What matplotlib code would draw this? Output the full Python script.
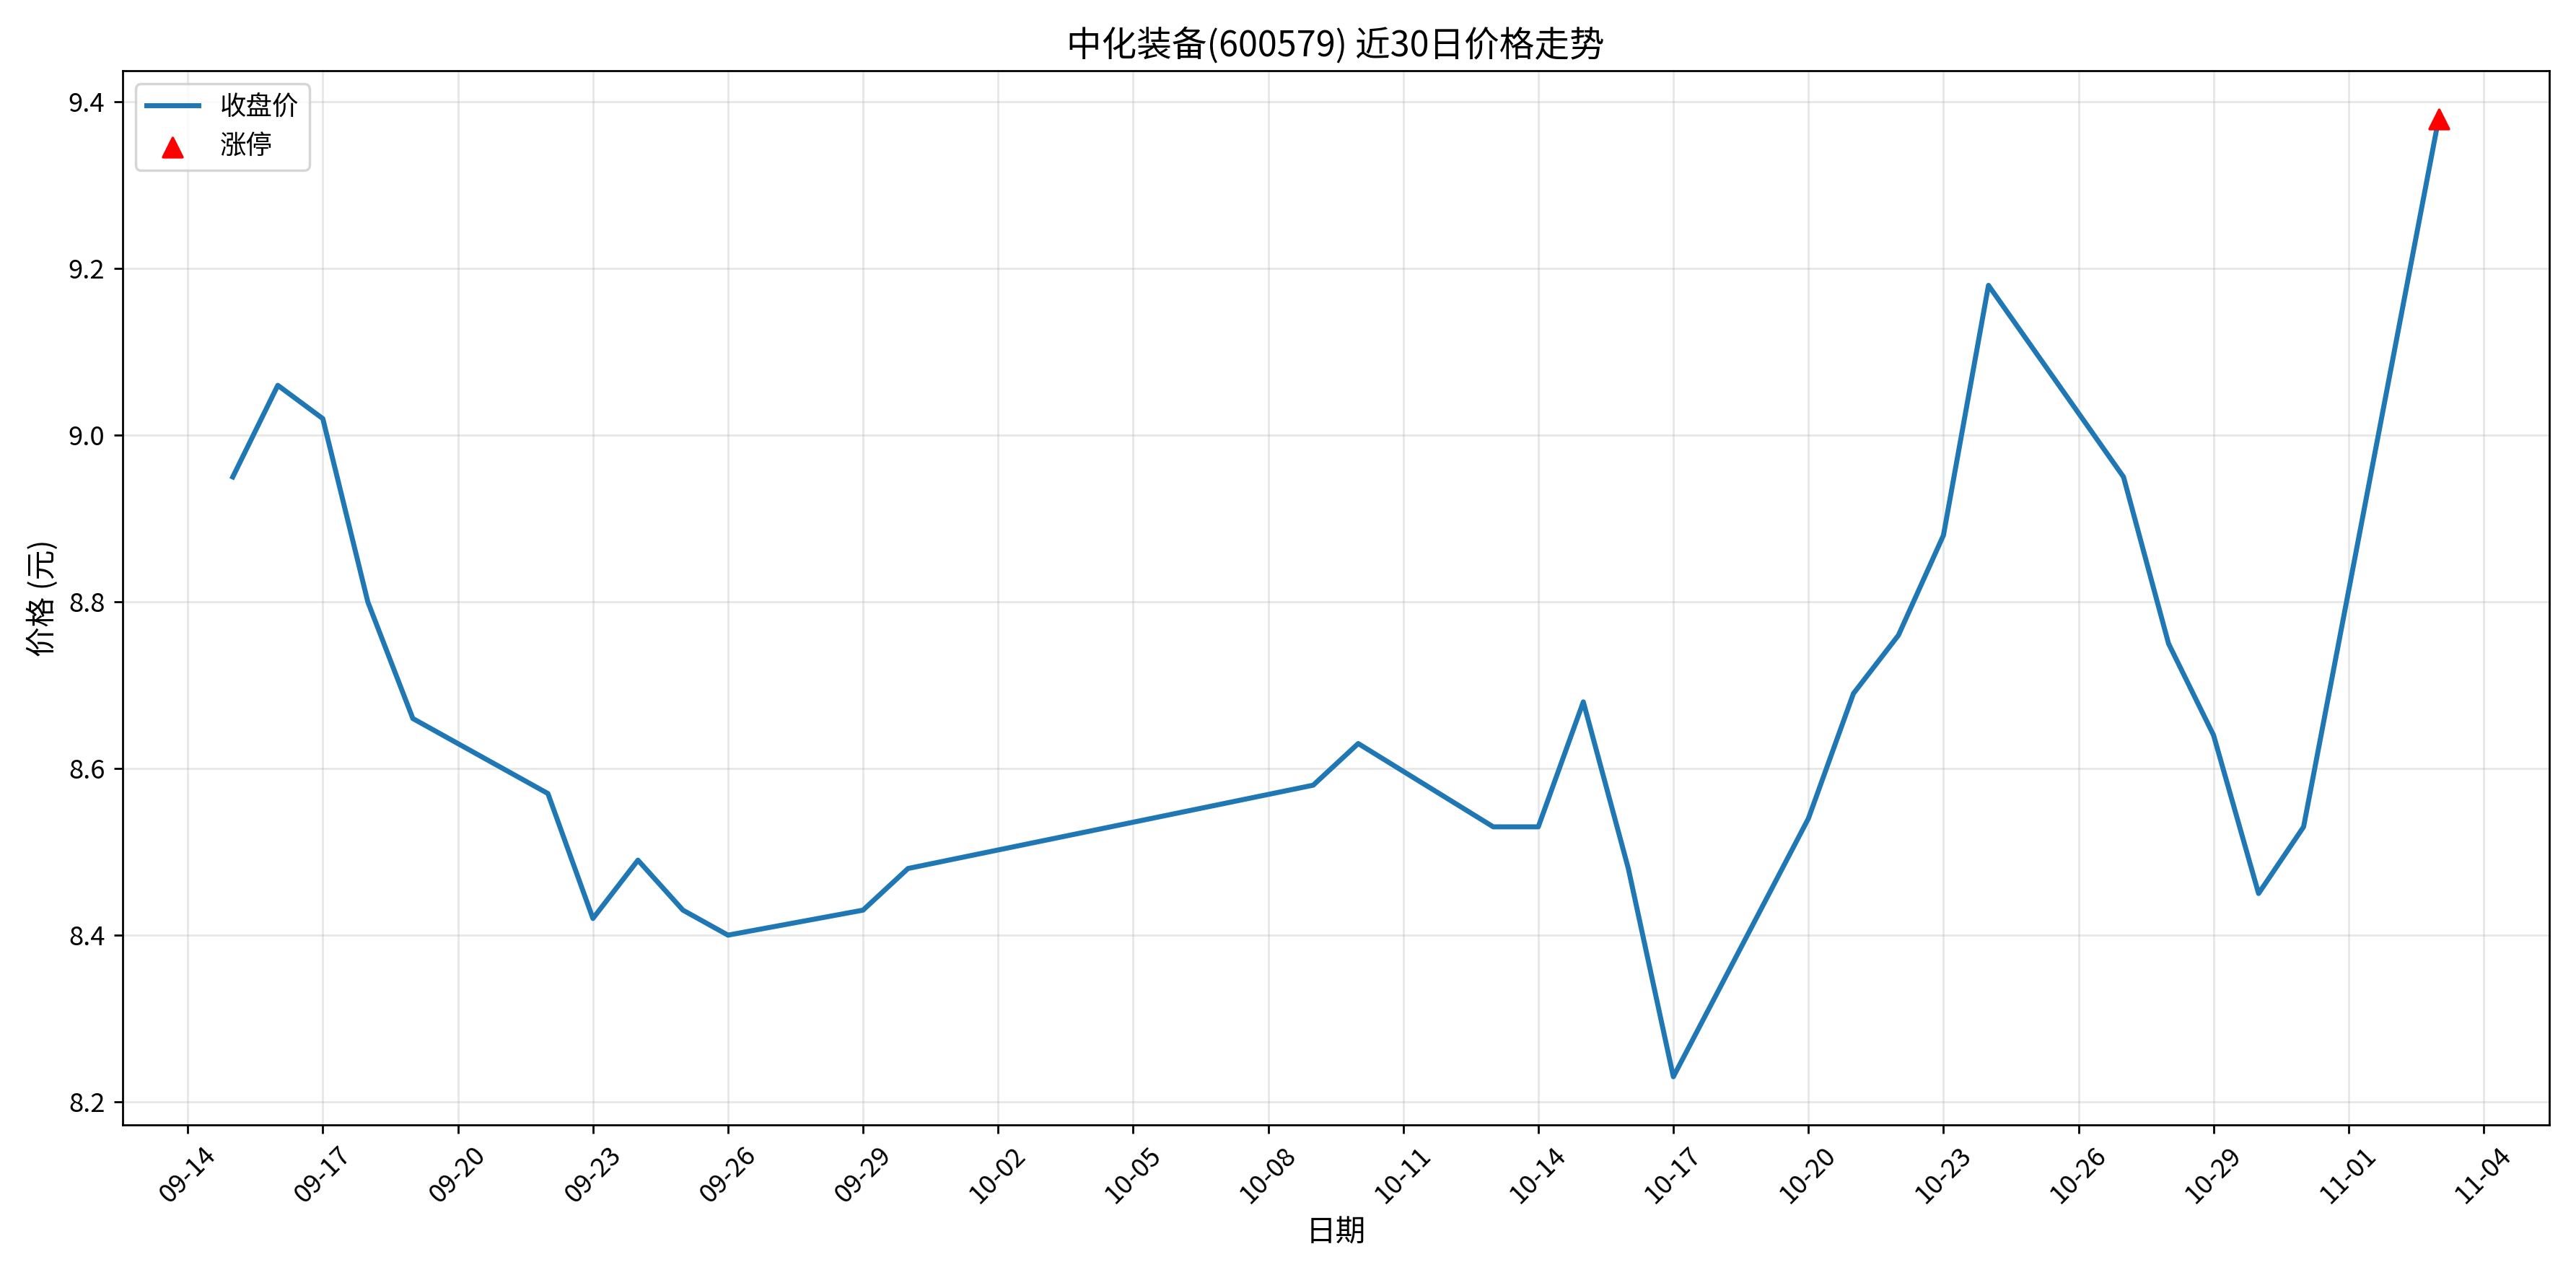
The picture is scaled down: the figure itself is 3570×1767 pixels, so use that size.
import matplotlib
matplotlib.use("Agg")
import matplotlib.pyplot as plt
import matplotlib.dates as mdates
import pandas as pd

plt.rcParams['font.family'] = ['Noto Sans CJK SC', 'DejaVu Sans']
plt.rcParams['axes.unicode_minus'] = False

dates = ["2025-09-15","2025-09-16","2025-09-17","2025-09-18","2025-09-19","2025-09-22",
         "2025-09-23","2025-09-24","2025-09-25","2025-09-26","2025-09-29","2025-09-30",
         "2025-10-09","2025-10-10","2025-10-13","2025-10-14","2025-10-15","2025-10-16",
         "2025-10-17","2025-10-20","2025-10-21","2025-10-22","2025-10-23","2025-10-24",
         "2025-10-27","2025-10-28","2025-10-29","2025-10-30","2025-10-31","2025-11-03"]
close = [8.95,9.06,9.02,8.80,8.66,8.57,8.42,8.49,8.43,8.40,8.43,8.48,
         8.58,8.63,8.53,8.53,8.68,8.48,8.23,8.54,8.69,8.76,8.88,9.18,
         8.95,8.75,8.64,8.45,8.53,9.38]
limit_dates = ["2025-11-03"]
limit_prices = [9.38]

d = pd.to_datetime(dates)
fig, ax = plt.subplots(figsize=(14.28, 7.068), dpi=250)
ax.plot(d, close, color='#1f77b4', linewidth=2, label='收盘价')
ax.scatter(pd.to_datetime(limit_dates), limit_prices, marker='^', color='red', s=60, zorder=5, label='涨停')
ax.set_title('中化装备(600579) 近30日价格走势', fontsize=14)
ax.set_xlabel('日期', fontsize=12)
ax.set_ylabel('价格 (元)', fontsize=12)
ticks = pd.date_range("2025-09-14", "2025-11-04", freq="3D")
ax.set_xticks(ticks)
ax.xaxis.set_major_formatter(mdates.DateFormatter('%m-%d'))
ax.tick_params(labelsize=10.5)
plt.setp(ax.get_xticklabels(), rotation=45)
ax.grid(True, alpha=0.3)
ax.legend(loc='upper left', fontsize=10.5)
fig.tight_layout()
fig.savefig('out.png', dpi=250)
